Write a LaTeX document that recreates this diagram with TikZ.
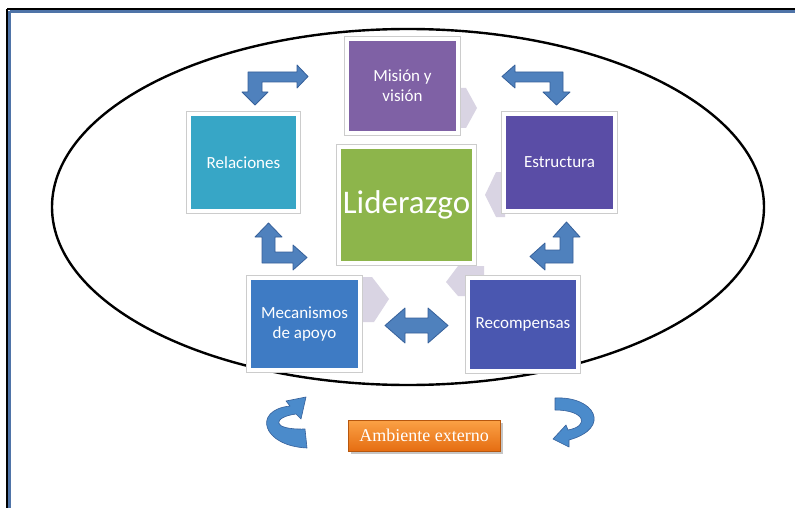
\documentclass[tikz,border=0pt]{standalone}
\usepackage{fontspec}
\setmainfont{Carlito}
\newfontfamily\timesf{Liberation Serif}
\definecolor{cMis}{HTML}{7F61A5}
\definecolor{cEst}{HTML}{5A4DA6}
\definecolor{cRel}{HTML}{37A6C6}
\definecolor{cLid}{HTML}{8DB54B}
\definecolor{cMec}{HTML}{3E7BC4}
\definecolor{cRec}{HTML}{4A57B0}
\definecolor{chev}{HTML}{D9D4E3}
\definecolor{arrF}{HTML}{4F81BD}
\definecolor{arrD}{HTML}{36609A}
\definecolor{curF}{HTML}{4B8BCB}
\definecolor{frameB}{HTML}{4F74A8}
\definecolor{orT}{HTML}{FBA246}
\definecolor{orB}{HTML}{E56D12}
\begin{document}
\begin{tikzpicture}[x=1pt,y=-1pt,
  box/.style={preaction={draw=gray!40, line width=5.2pt}, draw=white, line width=4pt,
    text=white, inner sep=0pt, align=center, font=\fontsize{17}{20}\selectfont},
  chevshape/.style={fill=chev, draw=none},
  bent/.style={fill=arrF, draw=arrD, line width=0.8pt, line join=round},
  curved/.style={fill=curF, draw=arrD, line width=0.6pt, line join=round}]
\useasboundingbox (0,0) rectangle (795,508);
\fill[white] (0,0) rectangle (795,508);
% frame
\draw[black, line width=2pt] (7,9) -- (800,9);
\draw[black, line width=2pt] (7,9) -- (7,515);
\draw[frameB, line width=2.5pt] (9.5,11.5) -- (800,11.5);
\draw[frameB, line width=2.5pt] (9.5,11.5) -- (9.5,515);
% ellipse
\draw[black, line width=2.4pt] (408,207) ellipse [x radius=356, y radius=178];
% chevrons
\path[chevshape] (456,88) -- (466,88) -- (477,108) -- (466,128) -- (456,128) -- cycle;
\path[chevshape] (505,172) -- (496,172) -- (485,195) -- (496,217) -- (505,217) -- cycle;
\path[chevshape] (458,266) -- (484,266) -- (484,296) -- (458,296) -- (446,282) -- cycle;
\path[chevshape] (360,277) -- (372,277) -- (389,299) -- (374,322) -- (360,322) -- cycle;
% boxes
\node[box, fill=cMis, minimum width=111pt, minimum height=94pt] (mis) at (402.5,86) {Misión y\\visión};
\node[box, fill=cEst, minimum width=111pt, minimum height=97pt] (est) at (559.5,162.5) {Estructura};
\node[box, fill=cRel, minimum width=109pt, minimum height=97pt] (rel) at (243.5,162.5) {Relaciones};
\node[box, fill=cLid, minimum width=135pt, minimum height=116pt, font=\fontsize{33}{36}\selectfont] (lid) at (406.5,205) {Liderazgo};
\node[box, fill=cMec, minimum width=111pt, minimum height=92pt] (mec) at (304.5,324) {Mecanismos\\de apoyo};
\node[box, fill=cRec, minimum width=110pt, minimum height=93pt] (rec) at (523,324.5) {Recompensas};
% bent arrows
\path[bent] (248,72) -- (297,72) -- (297,65) -- (308,76.5) -- (297,88) -- (297,82) -- (262,82) -- (262,92) -- (268,92) -- (255,105) -- (242,92) -- (248,92) -- cycle;
\path[bent] (563,72) -- (515,72) -- (515,65) -- (502,76.5) -- (515,88) -- (515,82) -- (550,82) -- (550,92) -- (543,92) -- (556.5,105) -- (570,92) -- (563,92) -- cycle;
\path[bent] (262,263) -- (262,237) -- (255,237) -- (268.5,223) -- (282,237) -- (275,237) -- (275,252) -- (293,252) -- (293,245) -- (307,257.5) -- (293,270) -- (293,263) -- cycle;
\path[bent] (573,263) -- (573,237) -- (580,237) -- (566.5,222) -- (553,237) -- (560,237) -- (560,250) -- (545,250) -- (545,243) -- (530,256.5) -- (545,270) -- (545,263) -- cycle;
\path[bent] (385,325.5) -- (405,308) -- (405,318) -- (428,318) -- (428,308) -- (448,325.5) -- (428,343) -- (428,333) -- (405,333) -- (405,343) -- cycle;
% curved arrows
\path[curved] (305,429) -- (307,448) .. controls (262,446) and (252,410) .. (290,406) -- (286,401) -- (306,397) -- (301,419) -- (296,414) .. controls (273,417) and (270,430) .. (305,429) -- cycle;
\path[curved] (555,398) .. controls (595,396) and (612,428) .. (569,440) -- (569,447) -- (553,439) -- (566,425) -- (568,430) .. controls (590,426) and (585,410) .. (555,410) -- cycle;
% ambiente externo
\fill[gray!45] (351,423) rectangle (503,454);
\node[top color=orT, bottom color=orB, draw=orB!80!black, line width=0.4pt, minimum width=152pt, minimum height=31pt, inner sep=0pt, text=white, font=\timesf\fontsize{18}{20}\selectfont] (amb) at (424,435.5) {Ambiente externo};
\end{tikzpicture}
\end{document}
